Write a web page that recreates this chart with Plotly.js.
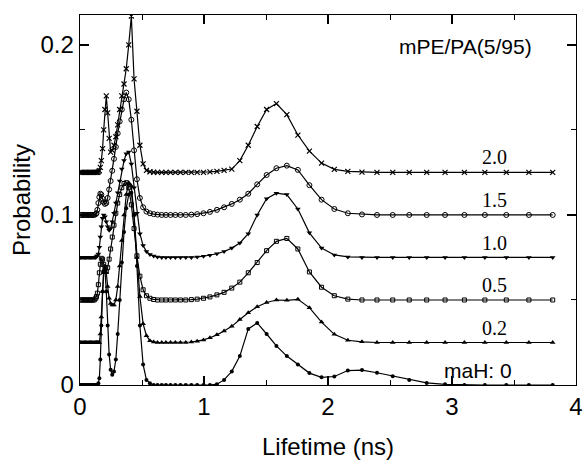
<!DOCTYPE html>
<html>
<head>
<meta charset="utf-8">
<script src="https://cdn.plot.ly/plotly-3.0.1.min.js"></script>
<style>
  html, body { margin: 0; padding: 0; background: #fff; }
  #chart { width: 583px; height: 460px; }
</style>
</head>
<body>
<div id="chart"></div>
<script>
// Lifetime grid (ns), shared by all curves
const lifetime = [
  0.005,0.015,0.025,0.035,0.045,0.055,0.065,0.075,0.085,0.095,0.105,0.115,
  0.127,0.133,0.140,0.148,0.156,0.164,0.172,0.182,0.191,0.201,
  0.212,0.223,0.235,0.247,0.260,0.274,0.289,0.304,0.320,0.337,
  0.355,0.373,0.393,0.414,0.436,0.459,0.483,0.509,0.536,0.564,
  0.594,0.625,0.659,0.693,0.730,0.769,0.810,0.853,0.898,0.945,
  0.996,1.048,1.104,1.162,1.224,1.289,1.357,1.429,1.505,1.584,
  1.668,1.757,1.850,1.948,2.051,2.160,2.274,2.395,2.522,2.655,
  2.796,2.944,3.100,3.265,3.438,3.620,3.812
];

// Probability of each curve (before vertical stacking offset)
const prob_maH0 = [
  0,0,0,0,0,0,0,0,0,0,0,0,
  0,0,0,0.001,0.004,0.015,0.035,0.055,0.067,0.068,
  0.055,0.035,0.018,0.009,0.006,0.008,0.015,0.030,0.050,0.072,
  0.090,0.104,0.112,0.113,0.100,0.070,0.035,0.012,0.003,0.001,
  0,0,0,0,0,0,0,0,0,0,
  0,0,0.0005,0.003,0.008,0.017,0.033,0.0365,0.030,0.023,
  0.017,0.012,0.007,0.0045,0.005,0.0085,0.0088,0.0072,0.0052,0.003,
  0.0012,0.0004,0,0,0,0,0
];
const prob_maH02 = [
  0,0,0,0,0,0,0,0,0,0,0,0,
  0,0,0,0,0,0.005,0.015,0.030,0.041,0.045,
  0.041,0.033,0.026,0.023,0.022,0.022,0.025,0.033,0.045,0.060,
  0.075,0.087,0.094,0.092,0.075,0.050,0.027,0.011,0.004,0.001,
  0.0003,0,0,0,0,0,0,0,0.0003,0.0008,
  0.0015,0.0028,0.0045,0.0068,0.0095,0.0135,0.0175,0.021,0.0235,0.025,
  0.0248,0.0254,0.0205,0.012,0.0048,0.0013,0.0004,0,0,0,
  0,0,0,0,0,0,0
];
const prob_maH05 = [
  0,0,0,0,0,0,0,0,0,0,0,0,
  0.001,0.002,0.004,0.009,0.016,0.021,0.0245,0.024,0.021,0.018,
  0.017,0.019,0.024,0.030,0.037,0.044,0.051,0.057,0.062,0.066,
  0.0685,0.069,0.066,0.056,0.042,0.026,0.014,0.006,0.0025,0.001,
  0.0003,0,0,0,0,0,0,0,0.0002,0.0005,
  0.001,0.0018,0.003,0.0045,0.007,0.0105,0.016,0.022,0.029,0.0345,
  0.0362,0.030,0.0165,0.0075,0.0025,0.0005,0,0,0,0,
  0,0,0,0,0,0,0
];
const prob_maH10 = [
  0,0,0,0,0,0,0,0,0,0,0,0,
  0,0.0005,0.001,0.002,0.006,0.012,0.018,0.023,0.025,0.024,
  0.021,0.018,0.016,0.017,0.021,0.026,0.032,0.038,0.045,0.052,
  0.057,0.061,0.062,0.055,0.041,0.026,0.014,0.007,0.0035,0.0018,
  0.0008,0.0003,0,0,0,0,0,0,0,0.0003,
  0.0007,0.0013,0.0022,0.0035,0.0055,0.0085,0.014,0.025,0.0345,0.0378,
  0.037,0.0285,0.0145,0.0055,0.0015,0.0003,0,0,0,0,
  0,0,0,0,0,0,0
];
const prob_maH15 = [
  0,0,0,0,0,0,0,0,0,0,0,0,
  0.0005,0.001,0.003,0.007,0.0105,0.0125,0.012,0.0095,0.0075,0.0065,
  0.007,0.010,0.015,0.020,0.026,0.033,0.040,0.048,0.055,0.062,
  0.068,0.072,0.068,0.056,0.038,0.021,0.010,0.0045,0.002,0.001,
  0.0005,0.0002,0,0,0,0,0,0,0.0002,0.0005,
  0.001,0.0018,0.003,0.0045,0.0065,0.009,0.0125,0.018,0.0235,0.0275,
  0.029,0.0265,0.0175,0.009,0.0035,0.001,0.0003,0,0,0,
  0,0,0,0,0,0,0
];
const prob_maH20 = [
  0,0,0,0,0,0,0,0,0,0,0,0,
  0,0,0,0.0003,0.001,0.003,0.007,0.014,0.025,0.037,
  0.045,0.035,0.020,0.012,0.013,0.016,0.021,0.028,0.037,0.045,
  0.052,0.061,0.075,0.092,0.055,0.036,0.016,0.005,0.0012,0.0004,
  0.0001,0,0,0,0,0,0,0,0,0,
  0,0.0003,0.0006,0.0012,0.002,0.007,0.016,0.027,0.037,0.0405,
  0.034,0.022,0.0125,0.0055,0.0018,0.0006,0.0002,0,0,0,
  0,0,0,0,0,0,0
];

const curveLabels = ['maH: 0', '0.2', '0.5', '1.0', '1.5', '2.0'];
const stackOffset = [0, 0.025, 0.05, 0.075, 0.1, 0.125];
const curves = [prob_maH0, prob_maH02, prob_maH05, prob_maH10, prob_maH15, prob_maH20];
const xTickVals = [0, 1, 2, 3, 4];
const yTickVals = [0, 0.1, 0.2];
const yTickText = ['0', '0.1', '0.2'];
const compositionLabel = 'mPE/PA(5/95)';

const markerStyles = [
  {symbol: 'circle', size: 4, color: '#000'},
  {symbol: 'triangle-up', size: 5, color: '#000'},
  {symbol: 'square-open', size: 4, color: '#000', line: {color: '#000', width: 1}},
  {symbol: 'triangle-down', size: 5, color: '#000'},
  {symbol: 'circle-open', size: 5, color: '#000', line: {color: '#000', width: 1}},
  {symbol: 'x-thin-open', size: 5, color: '#000', line: {color: '#000', width: 1.2}}
];

const traces = curves.map((p, i) => ({
  type: 'scatter',
  mode: 'lines+markers',
  x: lifetime,
  y: p.map(v => v + stackOffset[i]),
  name: curveLabels[i],
  line: {color: '#000', width: 1.2},
  marker: markerStyles[i],
  showlegend: false,
  hoverinfo: 'skip'
}));

const annotations = curveLabels.map((t, i) => ({
  x: i === 0 ? 3.21 : 3.34,
  y: stackOffset[i] + 0.0088,
  xref: 'x', yref: 'y',
  text: t,
  showarrow: false,
  xanchor: 'center', yanchor: 'middle',
  font: i === 0
    ? {family: 'Liberation Sans, Arial, sans-serif', size: 21, color: '#000'}
    : {family: 'Liberation Serif, Times New Roman, serif', size: 20, color: '#000'}
}));
annotations.push({
  x: 3.105, y: 0.1988, xref: 'x', yref: 'y',
  text: compositionLabel, showarrow: false,
  xanchor: 'center', yanchor: 'middle',
  font: {family: 'Liberation Sans, Arial, sans-serif', size: 21, color: '#000'}
});

const axisCommon = {
  showline: true, linecolor: '#000', linewidth: 1.3, mirror: 'ticks',
  ticks: 'inside', ticklen: 9, tickwidth: 1.2, tickcolor: '#000',
  showgrid: false, zeroline: false,
  tickfont: {family: 'Liberation Sans, Arial, sans-serif', size: 24, color: '#000'}
};

const layout = {
  width: 583, height: 460,
  margin: {l: 80, r: 7, t: 15, b: 75},
  paper_bgcolor: '#fff', plot_bgcolor: '#fff',
  font: {family: 'Liberation Sans, Arial, sans-serif', color: '#000'},
  xaxis: Object.assign({}, axisCommon, {
    range: [0, 4], tickmode: 'array', tickvals: xTickVals,
    minor: {tickvals: [0.5, 1.5, 2.5, 3.5], ticks: 'inside', ticklen: 5, tickwidth: 1, tickcolor: '#000'},
    title: {text: 'Lifetime (ns)', font: {size: 24, color: '#000'}, standoff: 33}
  }),
  yaxis: Object.assign({}, axisCommon, {
    range: [0, 0.2176], tickmode: 'array', tickvals: yTickVals, ticktext: yTickText,
    minor: {tickvals: [0.05, 0.15], ticks: 'inside', ticklen: 5, tickwidth: 1, tickcolor: '#000'},
    title: {text: 'Probability', font: {size: 24, color: '#000'}, standoff: 3}
  }),
  annotations: annotations
};

Plotly.newPlot('chart', traces, layout, {staticPlot: true, displayModeBar: false});
</script>
</body>
</html>
